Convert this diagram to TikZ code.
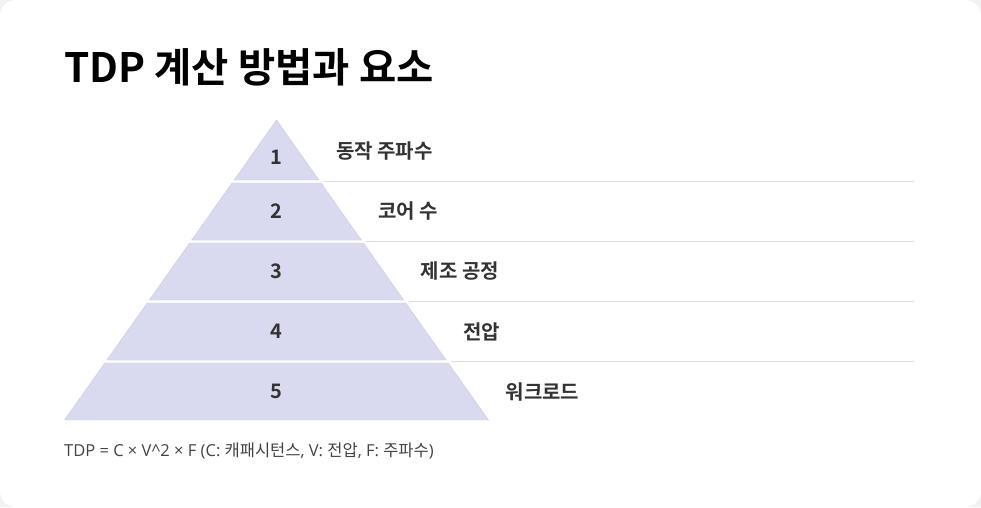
\documentclass[tikz,border=0pt]{standalone}
\usepackage{fontspec}
\setmainfont{Noto Sans CJK KR}[BoldFont={Noto Sans CJK KR Bold}]
\newfontfamily\lat{Open Sans}
\definecolor{bandfill}{HTML}{D9DAF0}
\definecolor{bandedge}{HTML}{C9CBE8}
\definecolor{sepline}{HTML}{DEDEE2}
\definecolor{txt}{HTML}{333333}
\definecolor{ftxt}{HTML}{444444}
\definecolor{outer}{HTML}{F2F2F4}
\tikzset{
  band/.style={fill=bandfill, draw=bandedge, line width=0.4pt},
  numlab/.style={font=\bfseries\fontsize{20}{22}\selectfont, text=txt, inner sep=0pt},
  sidelab/.style={font=\bfseries\fontsize{20}{22}\selectfont, text=txt, inner sep=0pt, anchor=west},
  sep/.style={draw=sepline, line width=1.6pt},
}
\begin{document}
\begin{tikzpicture}[x=1pt,y=-1pt]
\useasboundingbox (0,0) rectangle (981,507);
\fill[outer] (0,0) rectangle (981,507);
\fill[white, rounded corners=16pt] (0,0) rectangle (981,507);
\node[anchor=base west, inner sep=0pt, font=\bfseries\fontsize{40.5}{44}\selectfont, text=black] (title) at (64,82) {TDP 계산 방법과 요소};
% pyramid: apex (276.5,120), half-width 0.7067 per px
\def\cx{276.5}
\def\k{0.7067}
\foreach \i/\lab/\side in {0/1/동작 주파수,1/2/코어 수,2/3/제조 공정,3/4/전압,4/5/워크로드}{
  \pgfmathsetmacro{\yt}{120+60*\i+(\i>0?3:0)}
  \pgfmathsetmacro{\yb}{180+60*\i}
  \pgfmathsetmacro{\wt}{\k*(\yt-120)}
  \pgfmathsetmacro{\wb}{\k*(\yb-120)}
  \pgfmathsetmacro{\ym}{(\i==0?157:(\yt+\yb)/2)}
  \pgfmathsetmacro{\xs}{\cx+\wb+17}
  \pgfmathsetmacro{\ys}{(\i==0?151:(\yt+\yb)/2)}
  \draw[band] (\cx-\wt,\yt) -- (\cx+\wt,\yt) -- (\cx+\wb,\yb) -- (\cx-\wb,\yb) -- cycle;
  \node[numlab] (n\lab) at (\cx,\ym) {\lab};
  \node[sidelab] (s\lab) at (\xs,\ys) {\side};
}
\foreach \i in {1,2,3,4}{
  \pgfmathsetmacro{\yl}{121.5+60*\i}
  \pgfmathsetmacro{\xl}{\cx+\k*(\yl-120)+4}
  \coordinate (a\i) at (\xl,\yl);
  \coordinate (b\i) at (914,\yl);
  \draw[sep] (a\i) -- (b\i);
}
\node[anchor=west, inner sep=0pt, font=\fontsize{16.5}{19}\selectfont, text=ftxt] (formula) at (64,451) {{\lat TDP = C × V\^{}2 × F (C: }캐패시턴스{\lat , V: }전압{\lat , F: }주파수{\lat )}};
\end{tikzpicture}
\end{document}
